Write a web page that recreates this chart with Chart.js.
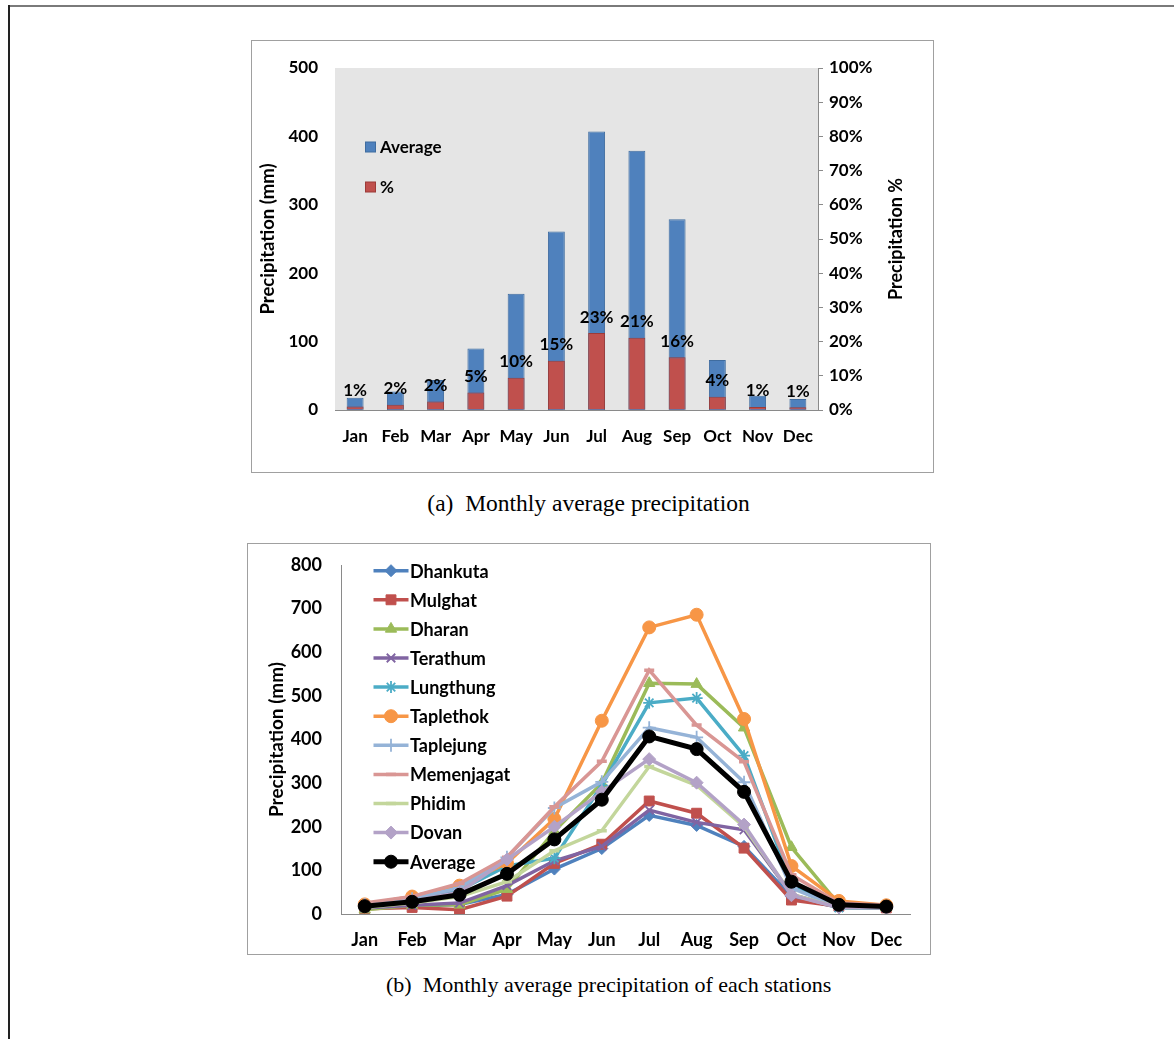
<!DOCTYPE html>
<html><head><meta charset="utf-8">
<script src="https://cdn.jsdelivr.net/npm/chart.js@4.4.0/dist/chart.umd.min.js"></script>
<style>
html,body{margin:0;padding:0;background:#fff;}
body{width:1174px;height:1039px;position:relative;overflow:hidden;}
#frameTop{position:absolute;left:8px;top:5px;width:1166px;height:2px;background:#7a7a7a;}
#frameLeft{position:absolute;left:8px;top:5px;width:2px;height:1034px;background:#222;}
.box{position:absolute;border:1px solid #a0a0a0;box-sizing:border-box;background:#fff;}
.box canvas{display:block;}
.cap{position:absolute;font-family:"Liberation Serif","DejaVu Serif",serif;font-size:22px;line-height:26px;color:#000;white-space:pre;}
</style></head>
<body>
<div id="frameTop"></div><div id="frameLeft"></div>
<div class="box" style="left:251px;top:40px;width:683px;height:433px;"><canvas id="c1" width="681" height="431"></canvas></div>
<div class="cap" style="left:0px;width:1177px;text-align:center;top:489px;font-size:23.5px;line-height:28px;">(a)  Monthly average precipitation</div>
<div class="box" style="left:247px;top:543px;width:684px;height:412px;"><canvas id="c2" width="682" height="410"></canvas></div>
<div class="cap" style="left:386px;top:972px;">(b)  Monthly average precipitation of each stations</div>
<script>
// ---------- data ----------
const months = ['Jan','Feb','Mar','Apr','May','Jun','Jul','Aug','Sep','Oct','Nov','Dec'];
// chart (a)
const avgPrecip = [18, 27, 44, 90, 170, 261, 407, 379, 279, 73, 21, 16];
const pctPrecip = [1.0, 1.5, 2.5, 5.1, 9.4, 14.4, 22.5, 21.1, 15.4, 3.9, 0.9, 0.8];
const pctLabels = ['1%','2%','2%','5%','10%','15%','23%','21%','16%','4%','1%','1%'];
const leftTicksA = [0, 100, 200, 300, 400, 500];
const rightTicksA = [0,10,20,30,40,50,60,70,80,90,100];
// chart (b)
const stationNames = ['Dhankuta','Mulghat','Dharan','Terathum','Lungthung','Taplethok','Taplejung','Memenjagat','Phidim','Dovan','Average'];
const dhankuta   = [15, 18, 22, 45, 103, 150, 226, 203, 155, 40, 15, 14];
const mulghat    = [12, 15, 10, 41, 116, 160, 259, 231, 151, 32, 18, 14];
const dharan     = [10, 20, 21, 57, 190, 300, 529, 527, 427, 153, 22, 15];
const terathum   = [14, 20, 25, 65, 122, 155, 238, 210, 193, 45, 15, 14];
const lungthung  = [20, 35, 55, 110, 128, 295, 484, 495, 363, 70, 14, 15];
const taplethok  = [22, 40, 65, 117, 218, 443, 657, 686, 447, 110, 30, 20];
const taplejung  = [22, 35, 60, 130, 243, 303, 427, 405, 302, 60, 15, 15];
const memenjagat = [25, 40, 70, 130, 246, 350, 559, 433, 349, 90, 25, 20];
const phidim     = [15, 25, 40, 74, 145, 191, 338, 295, 200, 45, 15, 15];
const dovan      = [20, 30, 50, 125, 200, 280, 355, 301, 205, 43, 15, 15];
const average    = [18, 28, 44, 92, 171, 262, 407, 378, 280, 74, 21, 17];
const leftTicksB = [0,100,200,300,400,500,600,700,800];

// ---------- styles ----------
const FONT = 'Lato, "Open Sans", "Liberation Sans", sans-serif';
Chart.defaults.color = '#000';
Chart.defaults.font.family = FONT;
const boldA = {family: FONT, size: 17, weight: 'bold'};
const boldB = {family: FONT, size: 18, weight: 'bold'};
const boldT = {family: FONT, size: 18.5, weight: 'bold'};
const boldTB = {family: FONT, size: 19, weight: 'bold'};

function fixW(w) { return s => { s.width = w; s.paddingTop = 0; s.paddingBottom = 0; }; }
function fixH(h) { return s => { s.height = h; s.paddingLeft = 0; s.paddingRight = 0; }; }

function drawMarker(ctx, style, radius, bw, x, y) {
  if (Chart.helpers && Chart.helpers.drawPoint) {
    ctx.lineWidth = bw;
    Chart.helpers.drawPoint(ctx, {pointStyle: style, radius: radius, borderWidth: bw, rotation: 0}, x, y);
  } else {
    ctx.beginPath(); ctx.arc(x, y, radius, 0, Math.PI*2); ctx.fill(); ctx.stroke();
  }
}

// ---------- chart (a) ----------
const blue = '#4f81bd', blueB = '#3f6c9f', red = '#c0504d', redB = '#9c3b38';
const plotBg = {
  id: 'plotBg',
  beforeDraw(chart) {
    const {ctx, chartArea: a} = chart;
    ctx.save(); ctx.fillStyle = '#e5e5e5';
    ctx.fillRect(a.left, a.top, a.right - a.left, a.bottom - a.top);
    ctx.restore();
  }
};
const extrasA = {
  id: 'extrasA',
  afterDatasetsDraw(chart) {
    const ctx = chart.ctx;
    const meta = chart.getDatasetMeta(1);
    ctx.save();
    ctx.font = 'bold 17px ' + FONT;
    ctx.fillStyle = '#000'; ctx.textAlign = 'center'; ctx.textBaseline = 'middle';
    meta.data.forEach((bar, i) => { ctx.fillText(pctLabels[i], bar.x, bar.y - 16); });
    // legend
    const items = [[chart.data.datasets[0], 106], [chart.data.datasets[1], 146]];
    items.forEach(([ds, cy]) => {
      ctx.fillStyle = ds.backgroundColor; ctx.strokeStyle = ds.borderColor; ctx.lineWidth = 1;
      ctx.fillRect(113.5, cy - 5, 10, 10); ctx.strokeRect(113.5, cy - 5, 10, 10);
      ctx.fillStyle = '#000'; ctx.textAlign = 'left';
      ctx.fillText(ds.label, 128, cy + 1);
    });
    // right axis title, reading upward
    ctx.font = 'bold 18px ' + FONT;
    ctx.translate(644, (chart.chartArea.top + chart.chartArea.bottom) / 2);
    ctx.rotate(-Math.PI / 2);
    ctx.textAlign = 'center';
    ctx.fillText('Precipitation %', 0, 0);
    ctx.restore();
  }
};
new Chart(document.getElementById('c1'), {
  type: 'bar',
  data: {
    labels: months,
    datasets: [
      {label: 'Average', data: avgPrecip, yAxisID: 'y', backgroundColor: blue, borderColor: blueB, borderWidth: 1, order: 1, grouped: false, barPercentage: 0.42, categoryPercentage: 1},
      {label: '%', data: pctPrecip, yAxisID: 'y1', backgroundColor: red, borderColor: redB, borderWidth: 1, order: 0, grouped: false, barPercentage: 0.42, categoryPercentage: 1}
    ]
  },
  options: {
    responsive: false, animation: false,
    layout: {padding: {top: 27, left: 0, right: 0, bottom: 0}, autoPadding: false},
    plugins: {legend: {display: false}, tooltip: {enabled: false}},
    scales: {
      x: {
        grid: {display: false, drawTicks: false},
        border: {display: true, color: '#8a8a8a', width: 1},
        ticks: {font: boldA, padding: 16, maxRotation: 0, autoSkip: false},
        afterFit: fixH(62)
      },
      y: {
        position: 'left', min: 0, max: 500,
        afterBuildTicks(s) { s.ticks = leftTicksA.map(v => ({value: v})); },
        grid: {display: false, drawTicks: false},
        border: {display: false},
        ticks: {font: boldA, padding: 17},
        title: {display: true, text: 'Precipitation (mm)', font: boldT, padding: {top: 5, bottom: 0}},
        afterFit: fixW(83)
      },
      y1: {
        position: 'right', min: 0, max: 100,
        afterBuildTicks(s) { s.ticks = rightTicksA.map(v => ({value: v})); },
        grid: {display: true, drawOnChartArea: false, drawTicks: true, tickLength: 5, color: '#8a8a8a'},
        border: {display: true, color: '#8a8a8a', width: 1},
        ticks: {font: boldA, padding: 6, callback: v => v + '%'},
        afterFit: fixW(115)
      }
    }
  },
  plugins: [plotBg, extrasA]
});

// ---------- chart (b) ----------
const seriesB = [dhankuta, mulghat, dharan, terathum, lungthung, taplethok, taplejung, memenjagat, phidim, dovan, average];
const colorsB = ['#4f81bd','#c0504d','#9bbb59','#8064a2','#4bacc6','#f79646','#95b3d7','#d99694','#c3d69b','#b3a2c7','#000000'];
const stylesB = ['rectRot','rect','triangle','crossRot','star','circle','cross','line','line','rectRot','circle'];
const radiiB  = [6, 7, 6.5, 6, 6, 6.5, 6.5, 5, 5, 6.5, 6.5];
const bwB     = [1, 1, 1, 1.8, 1.8, 1, 1.8, 3.5, 3.5, 1, 1];
const lineWB  = [3.5, 3.5, 3.5, 3.5, 3.5, 3.5, 3.5, 3.5, 3.5, 3.5, 5];

const legendB = {
  id: 'legendB',
  afterDraw(chart) {
    const ctx = chart.ctx;
    ctx.save();
    ctx.font = 'bold 18px ' + FONT;
    ctx.textBaseline = 'middle'; ctx.textAlign = 'left';
    chart.data.datasets.forEach((ds, i) => {
      const cy = 26.7 + i * 29.1;
      ctx.strokeStyle = ds.borderColor; ctx.fillStyle = ds.pointBackgroundColor;
      ctx.lineWidth = ds.borderWidth; ctx.lineCap = 'butt';
      ctx.beginPath(); ctx.moveTo(125.5, cy); ctx.lineTo(160.5, cy); ctx.stroke();
      drawMarker(ctx, ds.pointStyle, ds.pointRadius, ds.pointBorderWidth, 143, cy);
      ctx.fillStyle = '#000';
      ctx.fillText(ds.label, 162, cy + 1);
    });
    ctx.restore();
  }
};

new Chart(document.getElementById('c2'), {
  type: 'line',
  data: {
    labels: months,
    datasets: seriesB.map((d, i) => ({
      label: stationNames[i], data: d,
      borderColor: colorsB[i], backgroundColor: colorsB[i],
      pointBackgroundColor: colorsB[i], pointBorderColor: colorsB[i],
      pointStyle: stylesB[i], pointRadius: radiiB[i], pointBorderWidth: bwB[i],
      borderWidth: lineWB[i], tension: 0, fill: false,
      order: seriesB.length - 1 - i
    }))
  },
  options: {
    responsive: false, animation: false,
    layout: {padding: {top: 21, left: 0, right: 20, bottom: 0}, autoPadding: false},
    plugins: {legend: {display: false}, tooltip: {enabled: false}},
    scales: {
      x: {
        offset: true,
        grid: {display: false, drawTicks: false},
        border: {display: true, color: '#8a8a8a', width: 1},
        ticks: {font: boldB, padding: 15, maxRotation: 0, autoSkip: false},
        afterFit: fixH(40)
      },
      y: {
        min: 0, max: 800,
        afterBuildTicks(s) { s.ticks = leftTicksB.map(v => ({value: v})); },
        grid: {display: false, drawTicks: false},
        border: {display: true, color: '#8a8a8a', width: 1},
        ticks: {font: boldB, padding: 19},
        title: {display: true, text: 'Precipitation (mm)', font: boldTB, padding: {top: 17, bottom: 0}},
        afterFit: fixW(93)
      }
    }
  },
  plugins: [legendB]
});
</script>
</body></html>
